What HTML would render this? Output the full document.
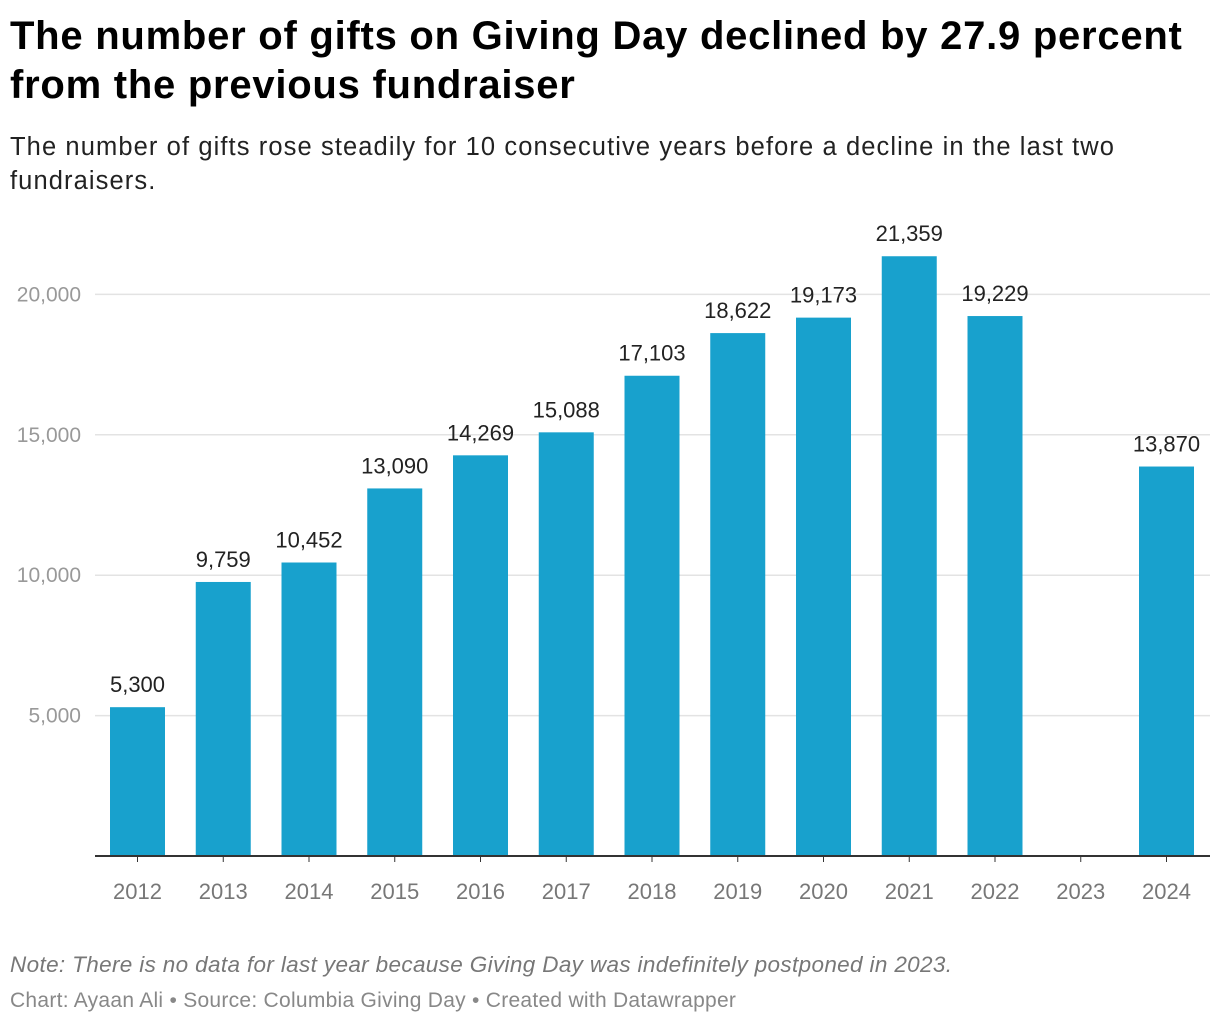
<!DOCTYPE html>
<html><head><meta charset="utf-8"><style>
body{margin:0;background:#fff;font-family:"Liberation Sans",Roboto,sans-serif;}
#wrap{position:relative;width:1220px;height:1026px;overflow:hidden}
.t{position:absolute;left:10px;margin:0}
</style></head><body>
<div id="wrap">
<h1 class="t" style="top:12px;font-size:40px;line-height:49px;font-weight:bold;color:#000;width:1200px;letter-spacing:0.75px">The number of gifts on Giving Day declined by 27.9 percent from the previous fundraiser</h1>
<p class="t" style="top:130px;font-size:25.5px;line-height:34px;color:#222;width:1140px;letter-spacing:1.1px">The number of gifts rose steadily for 10 consecutive years before a decline in the last two fundraisers.</p>
<svg id="chart" width="1220" height="1026" style="position:absolute;left:0;top:0"></svg>
<p class="t" style="top:952px;font-size:22.5px;font-style:italic;color:#777;letter-spacing:0.35px">Note: There is no data for last year because Giving Day was indefinitely postponed in 2023.</p>
<p class="t" style="top:989px;font-size:21px;color:#888;letter-spacing:0.27px">Chart: Ayaan Ali • Source: Columbia Giving Day • Created with Datawrapper</p>
</div>
<script>
const categories=["2012","2013","2014","2015","2016","2017","2018","2019","2020","2021","2022","2023","2024"];
const values=[5300,9759,10452,13090,14269,15088,17103,18622,19173,21359,19229,null,13870];
const yTicks=[5000,10000,15000,20000];
const svg=document.getElementById('chart');
const NS='http://www.w3.org/2000/svg';
const y0=856,pxPer=140.4/5000;
function y(v){return y0-v*pxPer;}
const x0=110,step=85.75,bw=55;
function x(i){return x0+i*step;}
function mk(t,a,txt){const e=document.createElementNS(NS,t);for(const k in a)e.setAttribute(k,a[k]);if(txt!=null)e.textContent=txt;svg.appendChild(e);return e;}
const fmt=v=>v.toLocaleString('en-US');
yTicks.forEach(v=>{
 const g=mk('line',{x1:95,x2:1210,y1:y(v),y2:y(v),stroke:'#e3e3e3','stroke-width':1.5});
 
 
 const l=mk('text',{x:81,y:y(v)+7,'text-anchor':'end','font-size':21,fill:'#999','font-family':'Liberation Sans, sans-serif'},fmt(v));
 
 
});
categories.forEach((c,i)=>{
 const cx=x(i)+bw/2;
 const v=values[i];
 if(v!=null){
  const r=mk('rect',{x:x(i),y:y(v),width:bw,height:y0-y(v),fill:'#18a1cd'});
  
  
  const t=mk('text',{x:cx,y:y(v)-15,'text-anchor':'middle','font-size':22,fill:'#222','font-family':'Liberation Sans, sans-serif'},fmt(v));
  
  
 }
 const tk=mk('line',{x1:cx,x2:cx,y1:y0,y2:y0+6,stroke:'#333','stroke-width':1});
 
 
 const xl=mk('text',{x:cx,y:899,'text-anchor':'middle','font-size':22,fill:'#777','font-family':'Liberation Sans, sans-serif'},c);
 
 
});
const ax=mk('line',{x1:95,x2:1210,y1:y0,y2:y0,stroke:'#333','stroke-width':2});


</script>
</body></html>
